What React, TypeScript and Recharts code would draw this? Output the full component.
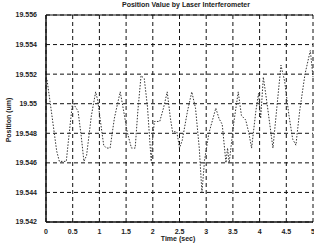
import { LineChart, Line, XAxis, YAxis, CartesianGrid, ReferenceLine } from 'recharts';

// 측정 시간 (sec)
const times = [
    0, 0.02, 0.1, 0.2, 0.25, 0.3, 0.38, 0.42, 0.5, 0.53, 0.6, 0.66, 0.71, 0.76, 0.85, 0.93, 0.97,
    1.02, 1.08, 1.13, 1.2, 1.28, 1.34, 1.39, 1.45, 1.52, 1.6, 1.67, 1.72, 1.78, 1.84, 1.9, 1.97,
    2.0, 2.03, 2.13, 2.2, 2.27, 2.33, 2.37, 2.45, 2.5, 2.55, 2.65, 2.73, 2.8, 2.87, 2.92, 2.97,
    3.05, 3.18, 3.24, 3.3, 3.37, 3.4, 3.43, 3.52, 3.6, 3.66, 3.74, 3.8, 3.85, 3.93, 3.98,
    4.02, 4.07, 4.14, 4.25, 4.33, 4.4, 4.47, 4.55, 4.62, 4.68, 4.75, 4.85, 4.95, 5.0,
];

// 레이저 간섭계 위치값 (um)
const positions = [
    19.5518, 19.5516, 19.5495, 19.5468, 19.5461, 19.5461, 19.5461, 19.5475, 19.5502, 19.5499, 19.5495, 19.5478, 19.5461, 19.5465, 19.5492, 19.5508, 19.5502,
    19.5488, 19.5472, 19.547, 19.547, 19.549, 19.55, 19.5508, 19.5496, 19.5481, 19.547, 19.547, 19.5495, 19.5519, 19.5517, 19.5498, 19.5461,
    19.5478, 19.5488, 19.5488, 19.5497, 19.5508, 19.549, 19.5481, 19.5481, 19.547, 19.5475, 19.5495, 19.5508, 19.5497, 19.547, 19.544, 19.5462,
    19.548, 19.5497, 19.549, 19.5486, 19.546, 19.547, 19.546, 19.5488, 19.5508, 19.5492, 19.5489, 19.548, 19.547, 19.5495, 19.5507,
    19.549, 19.5518, 19.55, 19.547, 19.55, 19.5526, 19.5515, 19.5492, 19.5476, 19.5472, 19.5495, 19.552, 19.5536, 19.5518,
];

const xTicks = [0, 0.5, 1, 1.5, 2, 2.5, 3, 3.5, 4, 4.5, 5];
const yTicks = [19.542, 19.544, 19.546, 19.548, 19.55, 19.552, 19.554, 19.556];

const data = times.map((t, i) => ({ t, pos: positions[i] }));

const FONT = '"Liberation Sans", Arial, sans-serif';
const tickStyle = { fontSize: 7, fill: '#222', fontWeight: 700, fontFamily: FONT };

export default function App() {
    return (
        <div style={{ position: 'absolute', left: 0, top: 0, width: 314, height: 245, background: '#fff', fontFamily: FONT }}>
            {/* 제목 */}
            <div style={{ position: 'absolute', left: 46, width: 280, top: 1, textAlign: 'center', fontSize: 7, fontWeight: 700, color: '#222' }}>
                Position Value by Laser Interferometer
            </div>
            <LineChart width={314} height={245} data={data} margin={{ top: 15, right: 1, left: 0, bottom: 11 }}>
                <CartesianGrid stroke="#111" strokeDasharray="4 3" strokeWidth={1} />
                <XAxis
                    dataKey="t" type="number" domain={[0, 5]} ticks={xTicks}
                    axisLine={{ stroke: '#111', strokeWidth: 1.5 }} tickLine={false}
                    tick={tickStyle} height={12} tickMargin={1} interval={0}
                />
                <YAxis
                    type="number" domain={[19.542, 19.556]} ticks={yTicks}
                    axisLine={{ stroke: '#111', strokeWidth: 1.5 }} tickLine={false}
                    tick={tickStyle} width={46} tickMargin={3} interval={0}
                    tickFormatter={(v: number) => String(Number(v.toFixed(3)))}
                />
                <ReferenceLine y={19.556} stroke="#111" strokeWidth={1} />
                <Line
                    dataKey="pos" type="linear" stroke="#333" strokeWidth={1}
                    strokeDasharray="1.5 1.5" dot={false} isAnimationActive={false}
                />
            </LineChart>
            {/* 축 라벨 */}
            <div style={{ position: 'absolute', left: 150, width: 56, top: 235, textAlign: 'center', fontSize: 7, fontWeight: 700, color: '#222' }}>
                Time (sec)
            </div>
            <div style={{ position: 'absolute', left: 8, top: 120, transform: 'translate(-50%, -50%) rotate(-90deg)', whiteSpace: 'nowrap', fontSize: 7, fontWeight: 700, color: '#222' }}>
                Position (um)
            </div>
        </div>
    );
}
